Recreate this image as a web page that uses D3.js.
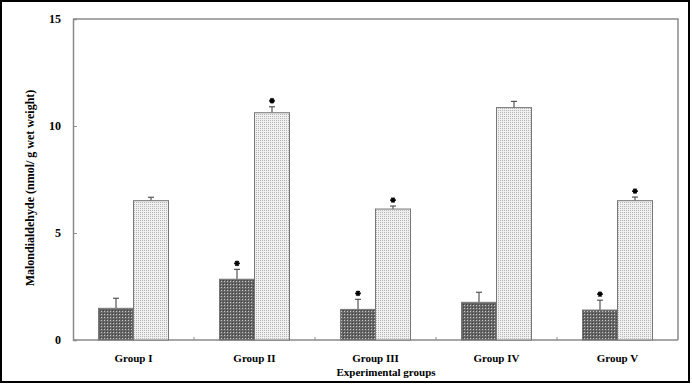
<!DOCTYPE html>
<html>
<head>
<meta charset="utf-8">
<script src="https://cdn.jsdelivr.net/npm/d3@7"></script>
<style>
  body { margin: 0; background: #fff; }
  text { font-family: "Liberation Serif", "Times New Roman", serif; font-weight: bold; fill: #000; }
</style>
</head>
<body>
<div id="chart"></div>
<script>
// values
var groups = ["Group I", "Group II", "Group III", "Group IV", "Group V"];
var darkValues = [1.48, 2.84, 1.43, 1.76, 1.40];
var darkErrors = [0.47, 0.46, 0.47, 0.47, 0.46];
var lightValues = [6.51, 10.62, 6.12, 10.86, 6.51];
var lightErrors = [0.16, 0.28, 0.14, 0.29, 0.17];
var darkStars = [false, true, true, false, true];
var lightStars = [false, true, true, false, true];
var yTicks = [0, 5, 10, 15];

var W = 692, H = 384;
var margin = {top: 19, right: 14, bottom: 44, left: 73};
var w = W - margin.left - margin.right, h = H - margin.top - margin.bottom;

var svg = d3.select("#chart").append("svg")
  .attr("width", W).attr("height", H);

// fill patterns for the two bar types
var defs = svg.append("defs");
var pd = defs.append("pattern").attr("id", "darkFill")
  .attr("patternUnits", "userSpaceOnUse").attr("width", 3).attr("height", 3);
pd.append("rect").attr("width", 3).attr("height", 3).attr("fill", "#666");
pd.append("rect").attr("width", 1).attr("height", 1).attr("x", 1).attr("y", 1).attr("fill", "#c8c8c8");
pd.append("rect").attr("width", 1).attr("height", 1).attr("x", 0).attr("y", 0).attr("fill", "#404040");
var pl = defs.append("pattern").attr("id", "lightFill")
  .attr("patternUnits", "userSpaceOnUse").attr("width", 2).attr("height", 2);
pl.append("rect").attr("width", 2).attr("height", 2).attr("fill", "#efefef");
pl.append("rect").attr("width", 1).attr("height", 1).attr("x", 1).attr("y", 1).attr("fill", "#b8b8b8");

// outer frame of the figure
svg.append("rect").attr("x", 1).attr("y", 1).attr("width", W - 4).attr("height", H - 3)
  .attr("fill", "none").attr("stroke", "#000").attr("stroke-width", 2);

var g = svg.append("g").attr("transform", "translate(" + margin.left + "," + margin.top + ")");

var x = d3.scaleBand().domain(groups).range([0, w]).padding(0);
var y = d3.scaleLinear().domain([0, 15]).range([h, 0]);
var barW = 35;

// plot box (top and right)
g.append("path").attr("d", "M0,0H" + w + "V" + h)
  .attr("fill", "none").attr("stroke", "#8a8a8a").attr("stroke-width", 1.5);

// y axis
var yAxis = g.append("g").call(d3.axisRight(y).tickValues(yTicks).tickSize(4).tickFormat(d3.format("d")));
yAxis.select(".domain").attr("stroke", "#8a8a8a").attr("stroke-width", 1.5);
yAxis.selectAll(".tick line").attr("stroke", "#8a8a8a");
yAxis.selectAll(".tick text").attr("x", -12).attr("text-anchor", "end")
  .style("font-size", "12px").style("font-family", "Liberation Serif").style("font-weight", "bold");

// x axis line + ticks at category boundaries
g.append("line").attr("x1", 0).attr("x2", w).attr("y1", h).attr("y2", h)
  .attr("stroke", "#8a8a8a").attr("stroke-width", 1.5);
g.selectAll(".xtick").data(groups.slice(1)).enter().append("line")
  .attr("x1", function(d){ return x(d); }).attr("x2", function(d){ return x(d); })
  .attr("y1", h).attr("y2", h - 3).attr("stroke", "#8a8a8a");

g.selectAll(".glabel").data(groups).enter().append("text")
  .attr("x", function(d){ return x(d) + x.bandwidth() / 2; })
  .attr("y", h + 22).attr("text-anchor", "middle").style("font-size", "11px")
  .text(function(d){ return d; });

var star = d3.symbol().type(d3.symbolAsterisk).size(22);

// bars
function drawSeries(values, errors, stars, fill, offset) {
  var s = g.append("g");
  groups.forEach(function(gr, i) {
    var cx = x(gr) + x.bandwidth() / 2 + offset;
    var top = y(values[i]), etop = y(values[i] + errors[i]);
    s.append("line").attr("x1", cx).attr("x2", cx).attr("y1", top).attr("y2", etop)
      .attr("stroke", "#555").attr("stroke-width", 1.2);
    s.append("line").attr("x1", cx - 3).attr("x2", cx + 3).attr("y1", etop).attr("y2", etop)
      .attr("stroke", "#555").attr("stroke-width", 1.2);
    s.append("rect").attr("x", cx - barW / 2).attr("y", top)
      .attr("width", barW).attr("height", h - top)
      .attr("fill", fill).attr("stroke", "#777").attr("stroke-width", 1);
    if (stars[i]) {
      s.append("path").attr("d", star)
        .attr("transform", "translate(" + cx + "," + (etop - 6) + ") rotate(90)")
        .attr("fill", "none").attr("stroke", "#000").attr("stroke-width", 1.8);
    }
  });
}
drawSeries(darkValues, darkErrors, darkStars, "url(#darkFill)", -barW / 2);
drawSeries(lightValues, lightErrors, lightStars, "url(#lightFill)", barW / 2);

// axis titles
svg.append("text").attr("transform", "translate(34," + (margin.top + 169) + ") rotate(-90)")
  .attr("text-anchor", "middle").style("font-size", "12px")
  .text("Malondialdehyde (nmol/ g wet weight)");
svg.append("text").attr("x", 386).attr("y", 376).attr("text-anchor", "middle")
  .style("font-size", "11px").text("Experimental groups");
</script>
</body>
</html>
